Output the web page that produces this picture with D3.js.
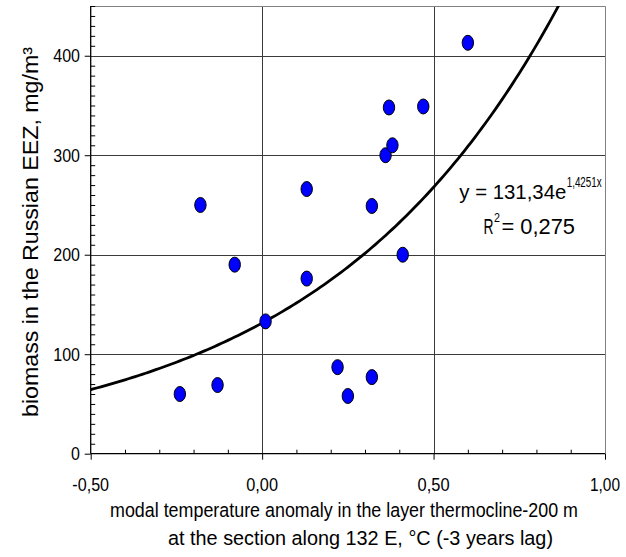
<!DOCTYPE html>
<html>
<head>
<meta charset="utf-8">
<script src="https://cdn.jsdelivr.net/npm/d3@7"></script>
<style>
  html, body { margin: 0; padding: 0; background: #fff; }
  text { font-family: "Liberation Sans", Arial, sans-serif; fill: #000; }
  text.narrow { font-family: "Liberation Sans Narrow", "Arial Narrow", "Liberation Sans", Arial, sans-serif; }
</style>
</head>
<body>
<svg id="chart" width="626" height="557"></svg>
<script>
// ---- data ----
const temperatureAnomaly = [-0.24, -0.18, -0.13, -0.08, 0.01, 0.13, 0.13, 0.22, 0.25, 0.32, 0.32, 0.36, 0.37, 0.38, 0.41, 0.47, 0.60];
const biomass            = [  60,   250,    69,   190,  133,  266,  176,   87,   58,   77,  249,  300,  348,  310,  200,  349,  413];
const xTickValues = [-0.5, 0, 0.5, 1.0];
const xTickLabels = ["-0,50", "0,00", "0,50", "1,00"];
const yTickValues = [0, 100, 200, 300, 400];
const yTickLabels = ["0", "100", "200", "300", "400"];
// exponential trend shown on the chart: y = 131,34 e^(1,4251x)
const trendA = 131.34;
const trendB = 1.4251;
const eqMain = "y = 131,34e";
const eqExp = "1,4251x";
const r2Value = "= 0,275";
const xTitle1 = "modal temperature anomaly in the layer thermocline-200 m";
const xTitle2 = "at the section along 132 E, \u00B0C (-3 years lag)";
const yTitle = "biomass in the Russian EEZ, mg/m\u00B3";

// ---- layout ----
const L = 90.7, R = 605, T = 6, B = 453.7;
const svg = d3.select("#chart");
const x = d3.scaleLinear().domain([-0.5, 1.0]).range([L, R]);
const y = d3.scaleLinear().domain([0, 450]).range([B, T]);

function fit(sel, len) {
  sel.attr("textLength", len).attr("lengthAdjust", "spacingAndGlyphs");
}

// clip
svg.append("defs").append("clipPath").attr("id", "plotclip")
  .append("rect").attr("x", L).attr("y", T).attr("width", R - L).attr("height", B - T);

// grid lines
const grid = svg.append("g");
grid.selectAll("line.h").data(yTickValues.filter(v => v > 0)).join("line")
  .attr("x1", L).attr("x2", R)
  .attr("y1", d => Math.round(y(d)) + 0.5).attr("y2", d => Math.round(y(d)) + 0.5)
  .attr("stroke", "#3a3a3a").attr("stroke-width", 1);
grid.selectAll("line.v").data([0, 0.5]).join("line")
  .attr("y1", T).attr("y2", B)
  .attr("x1", d => Math.round(x(d)) + 0.5).attr("x2", d => Math.round(x(d)) + 0.5)
  .attr("stroke", "#3a3a3a").attr("stroke-width", 1);

// frame top/right
svg.append("path")
  .attr("d", `M${L},${T + 0.5}H${R + 0.5}V${B}`)
  .attr("fill", "none").attr("stroke", "#808080").attr("stroke-width", 1);

// y axis: major ticks outward, minor ticks inward
const yAxisG = svg.append("g").attr("transform", `translate(${L},0)`);
yAxisG.call(d3.axisLeft(y).tickValues(yTickValues).tickSize(6).tickFormat(() => ""));
yAxisG.select(".domain").remove();
const yMinor = d3.range(10, 451, 10).filter(v => v % 100 !== 0);
yAxisG.append("g").call(d3.axisRight(y).tickValues(yMinor).tickSize(4.5).tickFormat(() => ""))
  .select(".domain").remove();
yAxisG.append("line").attr("x1", 0).attr("x2", 0).attr("y1", T).attr("y2", B)
  .attr("stroke", "#000").attr("stroke-width", 1.3);
yAxisG.selectAll(".tick line").attr("stroke", "#000");

// x axis: major ticks outward, minor ticks inward
const xAxisG = svg.append("g").attr("transform", `translate(0,${B})`);
xAxisG.call(d3.axisBottom(x).tickValues(xTickValues).tickSize(6).tickFormat(() => ""));
xAxisG.select(".domain").remove();
const xMinor = [-0.4, -0.3, -0.2, -0.1, 0.1, 0.2, 0.3, 0.4, 0.6, 0.7, 0.8, 0.9];
xAxisG.append("g").call(d3.axisTop(x).tickValues(xMinor).tickSize(4).tickFormat(() => ""))
  .select(".domain").remove();
xAxisG.append("line").attr("x1", L).attr("x2", R).attr("y1", 0).attr("y2", 0)
  .attr("stroke", "#000").attr("stroke-width", 1.3);
xAxisG.selectAll(".tick line").attr("stroke", "#000");

// tick labels
const tickFont = 18;
const xTickWidths = [36.7, 31.7, 32, 30];
svg.append("g").selectAll("text").data(xTickValues).join("text")
  .attr("class", "narrow")
  .attr("x", d => x(d)).attr("y", 491)
  .attr("text-anchor", "middle").attr("font-size", tickFont)
  .text((d, i) => xTickLabels[i])
  .each(function (d, i) { fit(d3.select(this), xTickWidths[i]); });
svg.append("g").selectAll("text").data(yTickValues).join("text")
  .attr("class", "narrow")
  .attr("x", 80).attr("y", d => y(d) + 6.5)
  .attr("text-anchor", "end").attr("font-size", tickFont)
  .text((d, i) => yTickLabels[i])
  .each(function (d, i) { fit(d3.select(this), yTickLabels[i].length * 8.9); });

// trend line
const trendX = d3.range(-0.5, 1.0001, 0.01);
const line = d3.line().x(d => x(d)).y(d => y(trendA * Math.exp(trendB * d)));
svg.append("path").datum(trendX)
  .attr("clip-path", "url(#plotclip)")
  .attr("d", line).attr("fill", "none").attr("stroke", "#000").attr("stroke-width", 2.8);

// points
svg.append("g").selectAll("ellipse").data(temperatureAnomaly).join("ellipse")
  .attr("cx", d => x(d)).attr("cy", (d, i) => y(biomass[i]))
  .attr("rx", 5.7).attr("ry", 7.5)
  .attr("fill", "#0000FF").attr("stroke", "#000").attr("stroke-width", 1);

// equation
const eq = svg.append("g");
eq.append("text").attr("class", "narrow").attr("x", 459.3).attr("y", 199).attr("font-size", 21).text(eqMain).call(fit, 107);
eq.append("text").attr("class", "narrow").attr("x", 566.7).attr("y", 187).attr("font-size", 14).text(eqExp).call(fit, 35);
eq.append("text").attr("class", "narrow").attr("x", 483.5).attr("y", 234).attr("font-size", 22).text("R").call(fit, 10);
eq.append("text").attr("class", "narrow").attr("x", 494).attr("y", 222).attr("font-size", 13).text("2").call(fit, 6);
eq.append("text").attr("class", "narrow").attr("x", 501.5).attr("y", 234).attr("font-size", 22).text(r2Value).call(fit, 73.5);

// axis titles
svg.append("text").attr("class", "narrow").attr("x", 110).attr("y", 517).attr("font-size", 20.5).text(xTitle1).call(fit, 468);
svg.append("text").attr("class", "narrow").attr("x", 168).attr("y", 545).attr("font-size", 20.5).text(xTitle2).call(fit, 385);
svg.append("text")
  .attr("transform", "translate(38,232) rotate(-90)")
  .attr("text-anchor", "middle").attr("font-size", 22)
  .text(yTitle).call(fit, 370);
</script>
</body>
</html>
